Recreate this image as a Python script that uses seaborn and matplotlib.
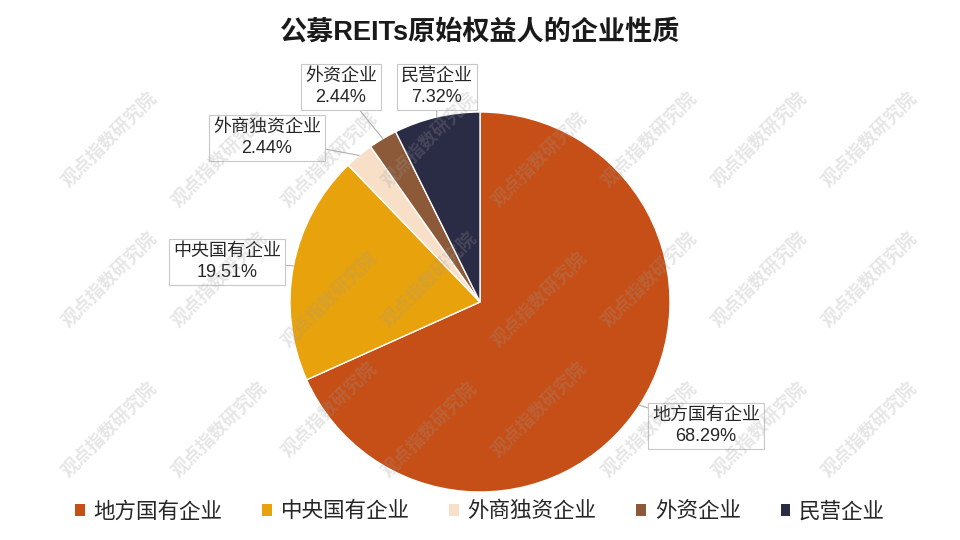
import numpy as np
import seaborn as sns
import matplotlib.pyplot as plt
from matplotlib.patches import Patch

# 数据
categories = ["地方国有企业", "中央国有企业", "外商独资企业", "外资企业", "民营企业"]
shares = [68.29, 19.51, 2.44, 2.44, 7.32]
colors = ["#C64F17", "#E8A20C", "#F8DFC8", "#8C5A38", "#2A2B45"]
title = "公募REITs原始权益人的企业性质"
watermark = "观点指数研究院"

sns.set_theme(style="white")
plt.rcParams['font.family'] = ['Liberation Sans', 'Noto Sans CJK SC', 'DejaVu Sans']

fig = plt.figure(figsize=(9.6, 5.4), dpi=100)
ax = fig.add_axes([0, 0, 1, 1])

cx, cy, r = 480, 238, 190
palette = sns.color_palette(colors)
wedges, _ = ax.pie(shares, colors=palette, startangle=90, counterclock=False,
                   center=(cx, cy), radius=r, frame=True,
                   wedgeprops=dict(edgecolor="white", linewidth=1))
ax.set_xlim(0, 960)
ax.set_ylim(0, 540)
ax.axis("off")

# 标签框位置
label_pos = [(706, 114), (227, 278), (267, 402), (341, 453), (437, 453)]
for w, name, val, pos in zip(wedges, categories, shares, label_pos):
    ang = np.deg2rad((w.theta1 + w.theta2) / 2)
    px, py = cx + r * np.cos(ang), cy + r * np.sin(ang)
    ax.annotate(f"{name}\n{val:.2f}%", xy=(px, py), xytext=pos,
                ha="center", va="center", fontsize=13, color="#262626",
                linespacing=1.3,
                bbox=dict(boxstyle="square,pad=0.2", fc="white", ec="#c8c8c8", lw=0.8),
                arrowprops=dict(arrowstyle="-", color="#b0b0b0", lw=0.8,
                                shrinkA=0, shrinkB=0))

# 水印
for yy, xs in [(400, [110, 430, 650, 760, 870]),
               (380, [220, 330, 540]),
               (260, [110, 220, 430, 650, 760, 870]),
               (240, [330, 540]),
               (110, [110, 220, 430, 650, 760, 870]),
               (130, [330, 540])]:
    for xx in xs:
        ax.text(xx, yy, watermark, rotation=45, ha="center", va="center",
                fontsize=13, color="#9a9a9a", alpha=0.25, fontweight="bold",
                zorder=5)

ax.text(480, 507, title, ha="center", va="center", fontsize=19.5,
        fontweight="bold", color="#1a1a1a")

handles = [Patch(facecolor=c, edgecolor="none") for c in palette]
fig.legend(handles, categories, loc="center", bbox_to_anchor=(0.5, 0.052),
           ncol=5, frameon=False, fontsize=15.5, handlelength=0.45,
           handleheight=0.45, handletextpad=0.4, columnspacing=1.85)

fig.savefig("out.png", dpi=100)
